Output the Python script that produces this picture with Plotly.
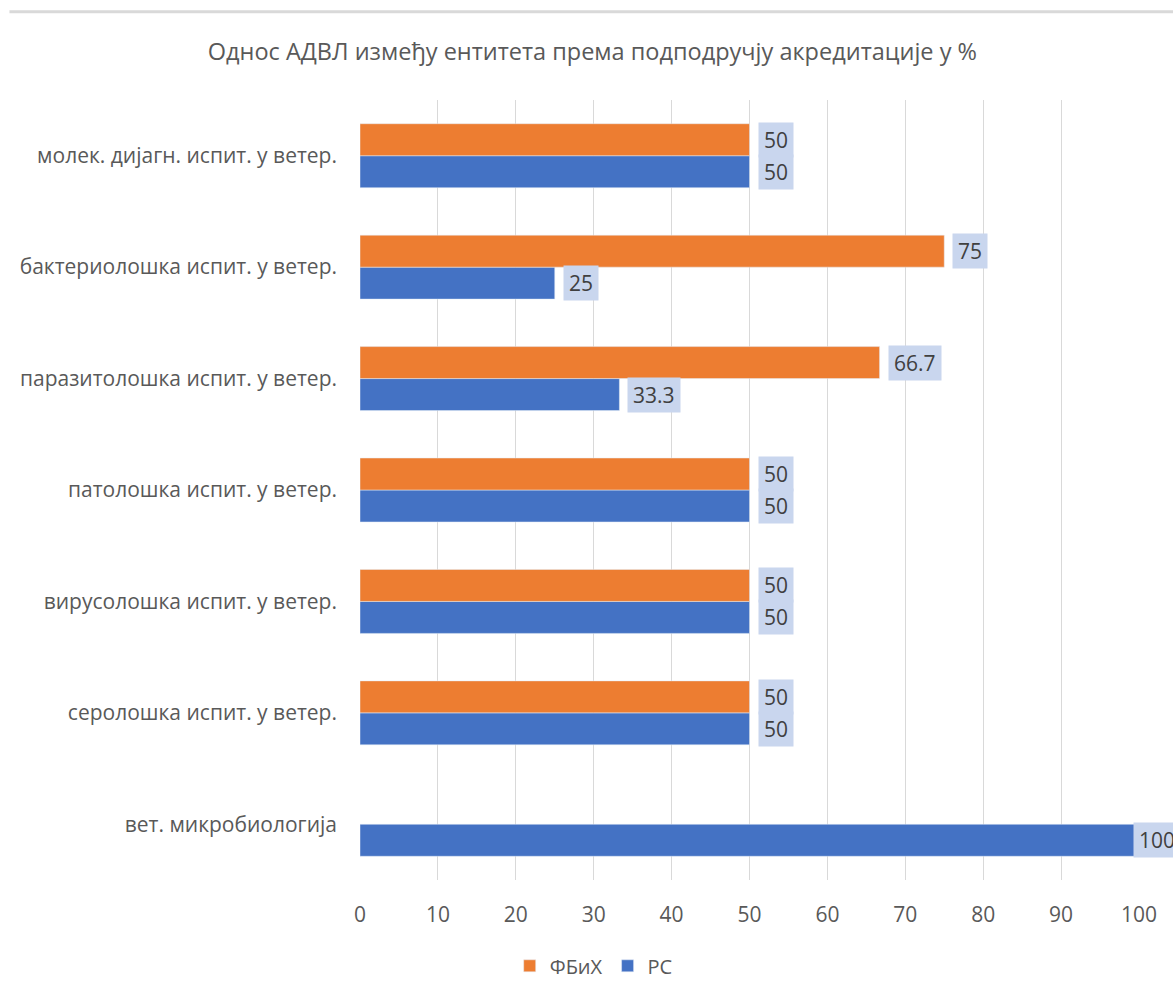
import plotly.graph_objects as go

# Categories listed bottom-to-top as they appear on the y axis
categories = [
    "вет. микробиологија",
    "серолошка испит. у ветер.",
    "вирусолошка испит. у ветер.",
    "патолошка испит. у ветер.",
    "паразитолошка испит. у ветер.",
    "бактериолошка испит. у ветер.",
    "молек. дијагн. испит. у ветер.",
]
fbih = [None, 50, 50, 50, 66.7, 75, 50]
rs = [100, 50, 50, 50, 33.3, 25, 50]
x_ticks = [0, 10, 20, 30, 40, 50, 60, 70, 80, 90, 100]
x_max = 100

ORANGE = "#ED7D31"
BLUE = "#4472C4"
GREY = "#595959"
FONT = "Open Sans"

fig = go.Figure()
fig.add_trace(go.Bar(y=categories, x=rs, orientation="h", name="РС",
                     marker_color=BLUE, legendrank=2))
fig.add_trace(go.Bar(y=categories, x=fbih, orientation="h", name="ФБиХ",
                     marker_color=ORANGE, legendrank=1))

bargap = 0.426
half = (1 - bargap) / 4  # centre offset of each bar within a group


def fmt(v):
    return f"{v:g}"


# value labels in shaded boxes just past each bar end;
# a label at the axis maximum is nudged back over the bar end
for i, cat in enumerate(categories):
    for vals, off in ((rs, -half), (fbih, half)):
        v = vals[i]
        if v is None:
            continue
        fig.add_annotation(
            x=v, y=i + off, xref="x", yref="y", text=fmt(v),
            showarrow=False, xanchor="left", yanchor="middle",
            xshift=-6 if v >= x_max else 8,
            bgcolor="#C9D6EE", borderpad=5, height=24,
            font=dict(family=FONT, size=21, color="#404040"),
        )

# thin rule across the top of the chart
fig.add_shape(type="line", xref="paper", yref="paper",
              x0=-0.45, x1=1.05, y0=1.113, y1=1.113,
              line=dict(color="#D9D9D9", width=3))

fig.update_layout(
    width=1173, height=997,
    margin=dict(l=360, r=34, t=100, b=117),
    paper_bgcolor="white", plot_bgcolor="white",
    barmode="group", bargap=bargap, bargroupgap=0,
    title=dict(text="Однос АДВЛ између ентитета према подподручју акредитације у %",
               x=0.505, xanchor="center", y=0.948, yanchor="middle",
               font=dict(family=FONT, size=23.5, color=GREY)),
    xaxis=dict(range=[0, x_max], tickvals=x_ticks, showgrid=True,
               gridcolor="#D9D9D9", gridwidth=1, zeroline=False,
               showline=False, ticks="", ticklabelstandoff=20,
               tickfont=dict(family=FONT, size=21, color=GREY)),
    yaxis=dict(type="category", categoryorder="array", categoryarray=categories,
               showgrid=False, zeroline=False, showline=False, ticks="",
               ticklabelstandoff=22,
               tickfont=dict(family=FONT, size=21, color=GREY)),
    legend=dict(orientation="h", x=0.3, xanchor="center", y=-0.11,
                yanchor="middle", traceorder="normal",
                font=dict(family=FONT, size=20, color=GREY),
                itemwidth=30),
    showlegend=True,
)

fig.write_html("out.html")
